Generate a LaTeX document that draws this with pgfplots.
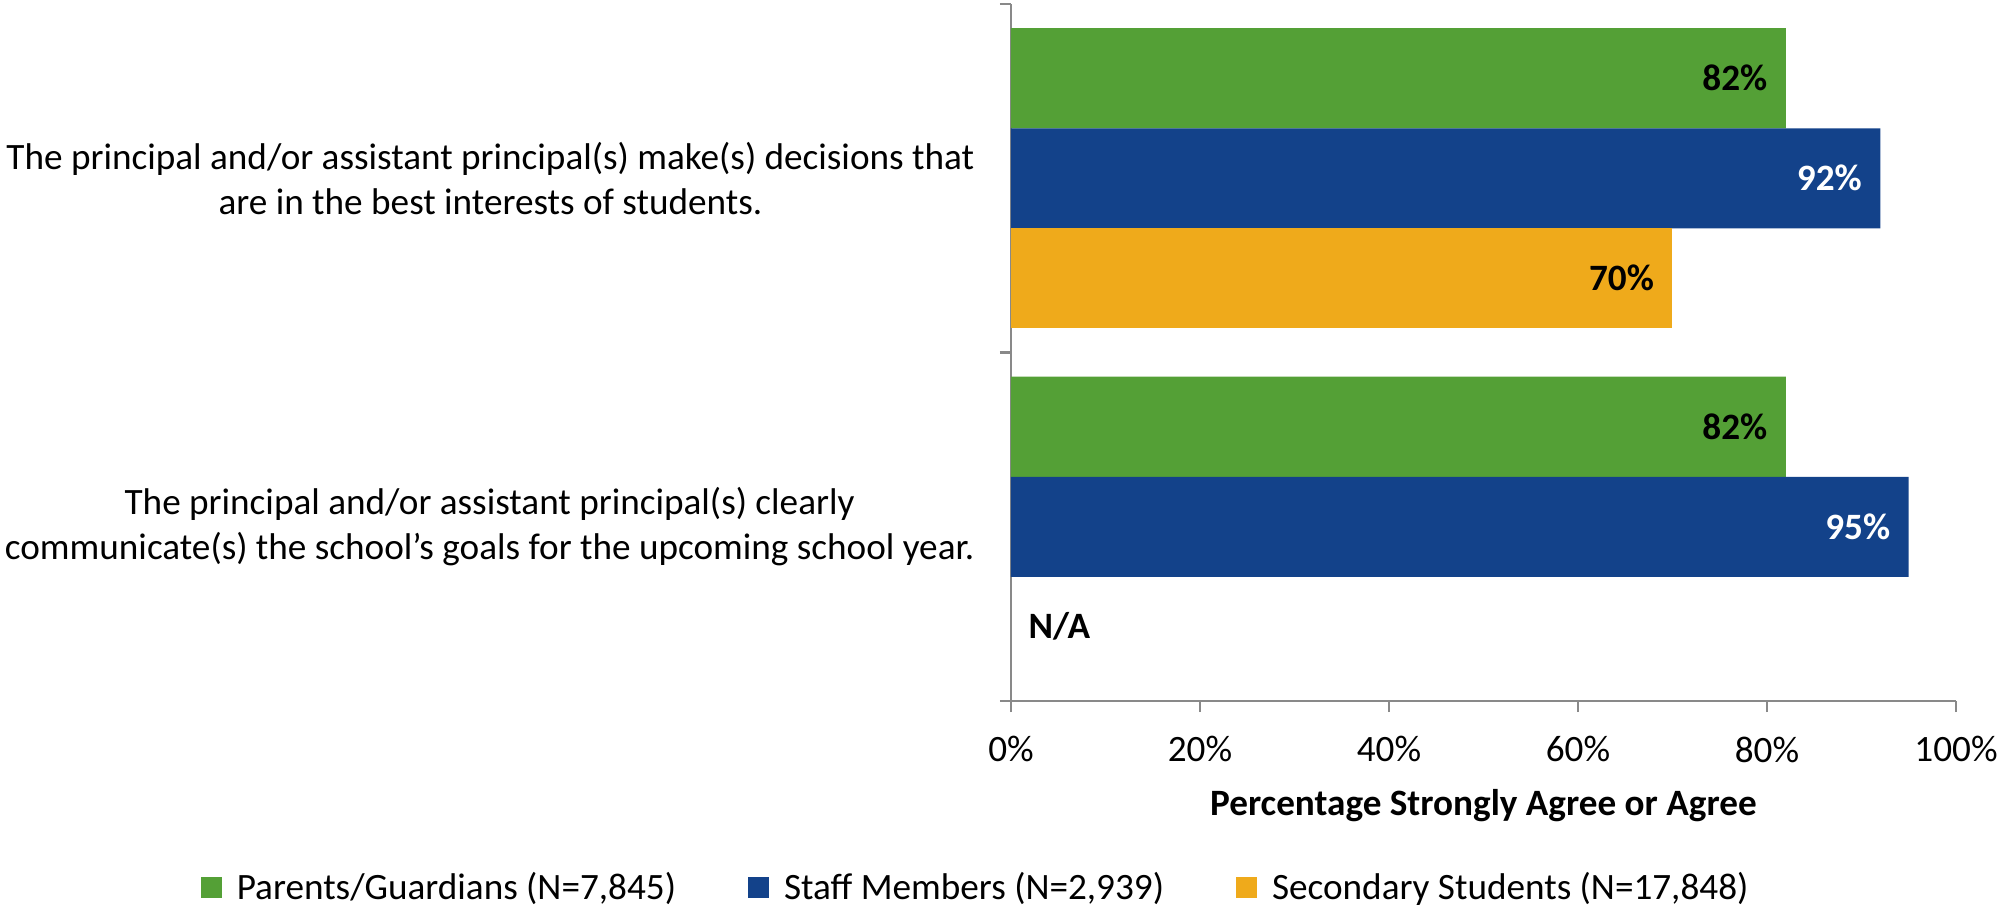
\documentclass[border=0pt]{standalone}
\usepackage{pgfplots}
\pgfplotsset{compat=1.18}
\usepackage{fontspec}
\setmainfont{Carlito}

\definecolor{pgreen}{HTML}{54A036}
\definecolor{pblue}{HTML}{13428A}
\definecolor{porange}{HTML}{EFAA1B}
\definecolor{axgray}{HTML}{898989}

\begin{document}
\begin{tikzpicture}
\useasboundingbox (-337pt,-68.33pt) rectangle (328.67pt,233.67pt);
\begin{axis}[
    at={(0,0)}, anchor=south west,
    width=315pt, height=232.33pt, scale only axis,
    font=\fontsize{12.4}{15}\selectfont,
    xmin=0, xmax=100, ymin=-0.5, ymax=1.5,
    axis x line*=bottom, axis y line*=left,
    axis line style={axgray, line width=0.8pt},
    tick align=outside, major tick length=3.67pt,
    tick style={axgray, line width=0.8pt},
    xtick={0,20,40,60,80,100},
    xticklabels={0\%,20\%,40\%,60\%,80\%,100\%},
    xticklabel style={inner sep=0pt, anchor=north, yshift=-8pt},
    ytick={-0.5,0.5,1.5}, yticklabels={},
    extra y ticks={1,0},
    extra y tick labels={{The principal and/or assistant principal(s) make(s) decisions that\\are in the best interests of students.},
                         {The principal and/or assistant principal(s) clearly\\communicate(s) the school’s goals for the upcoming school year.}},
    extra y tick style={major tick length=0pt},
    yticklabel style={align=center, inner sep=0pt, xshift=-12pt},
    xlabel={\bfseries Percentage Strongly Agree or Agree},
    xlabel style={at={(axis description cs:0.5,0)}, anchor=base, yshift=-38pt, inner sep=0pt},
    xbar, bar shift=0pt, bar width=0.287,
    nodes near coords={\pgfmathprintnumber[assume math mode=true]{\pgfplotspointmeta}\%},
    point meta=x,
    every node near coord/.append style={anchor=east, inner sep=0pt, xshift=-6pt, font=\fontsize{12.4}{15}\selectfont\bfseries},
    legend columns=3,
    legend style={draw=none, at={(axis description cs:-0.858,-0.268)}, anchor=west, inner sep=0pt,
        font=\fontsize{12.4}{15}\selectfont,
        /tikz/every odd column/.append style={column sep=3pt},
        /tikz/every even column/.append style={column sep=22pt}},
    legend image code/.code={\fill[#1] (0pt,-3.5pt) rectangle (7pt,3.5pt);},
]
\addplot[fill=pgreen, draw=none, every node near coord/.append style={text=black}]
    coordinates {(82,1.287) (82,0.287)};
\addlegendentry{Parents/Guardians (N=7,845)}
\addplot[fill=pblue, draw=none, every node near coord/.append style={text=white}]
    coordinates {(92,1) (95,0)};
\addlegendentry{Staff Members (N=2,939)}
\addplot[fill=porange, draw=none, every node near coord/.append style={text=black}]
    coordinates {(70,0.713)};
\addlegendentry{Secondary Students (N=17,848)}
\node[anchor=west, inner sep=0pt, xshift=5.67pt, font=\fontsize{12.4}{15}\selectfont\bfseries] at (axis cs:0,-0.287) {N/A};
\end{axis}
\end{tikzpicture}
\end{document}
